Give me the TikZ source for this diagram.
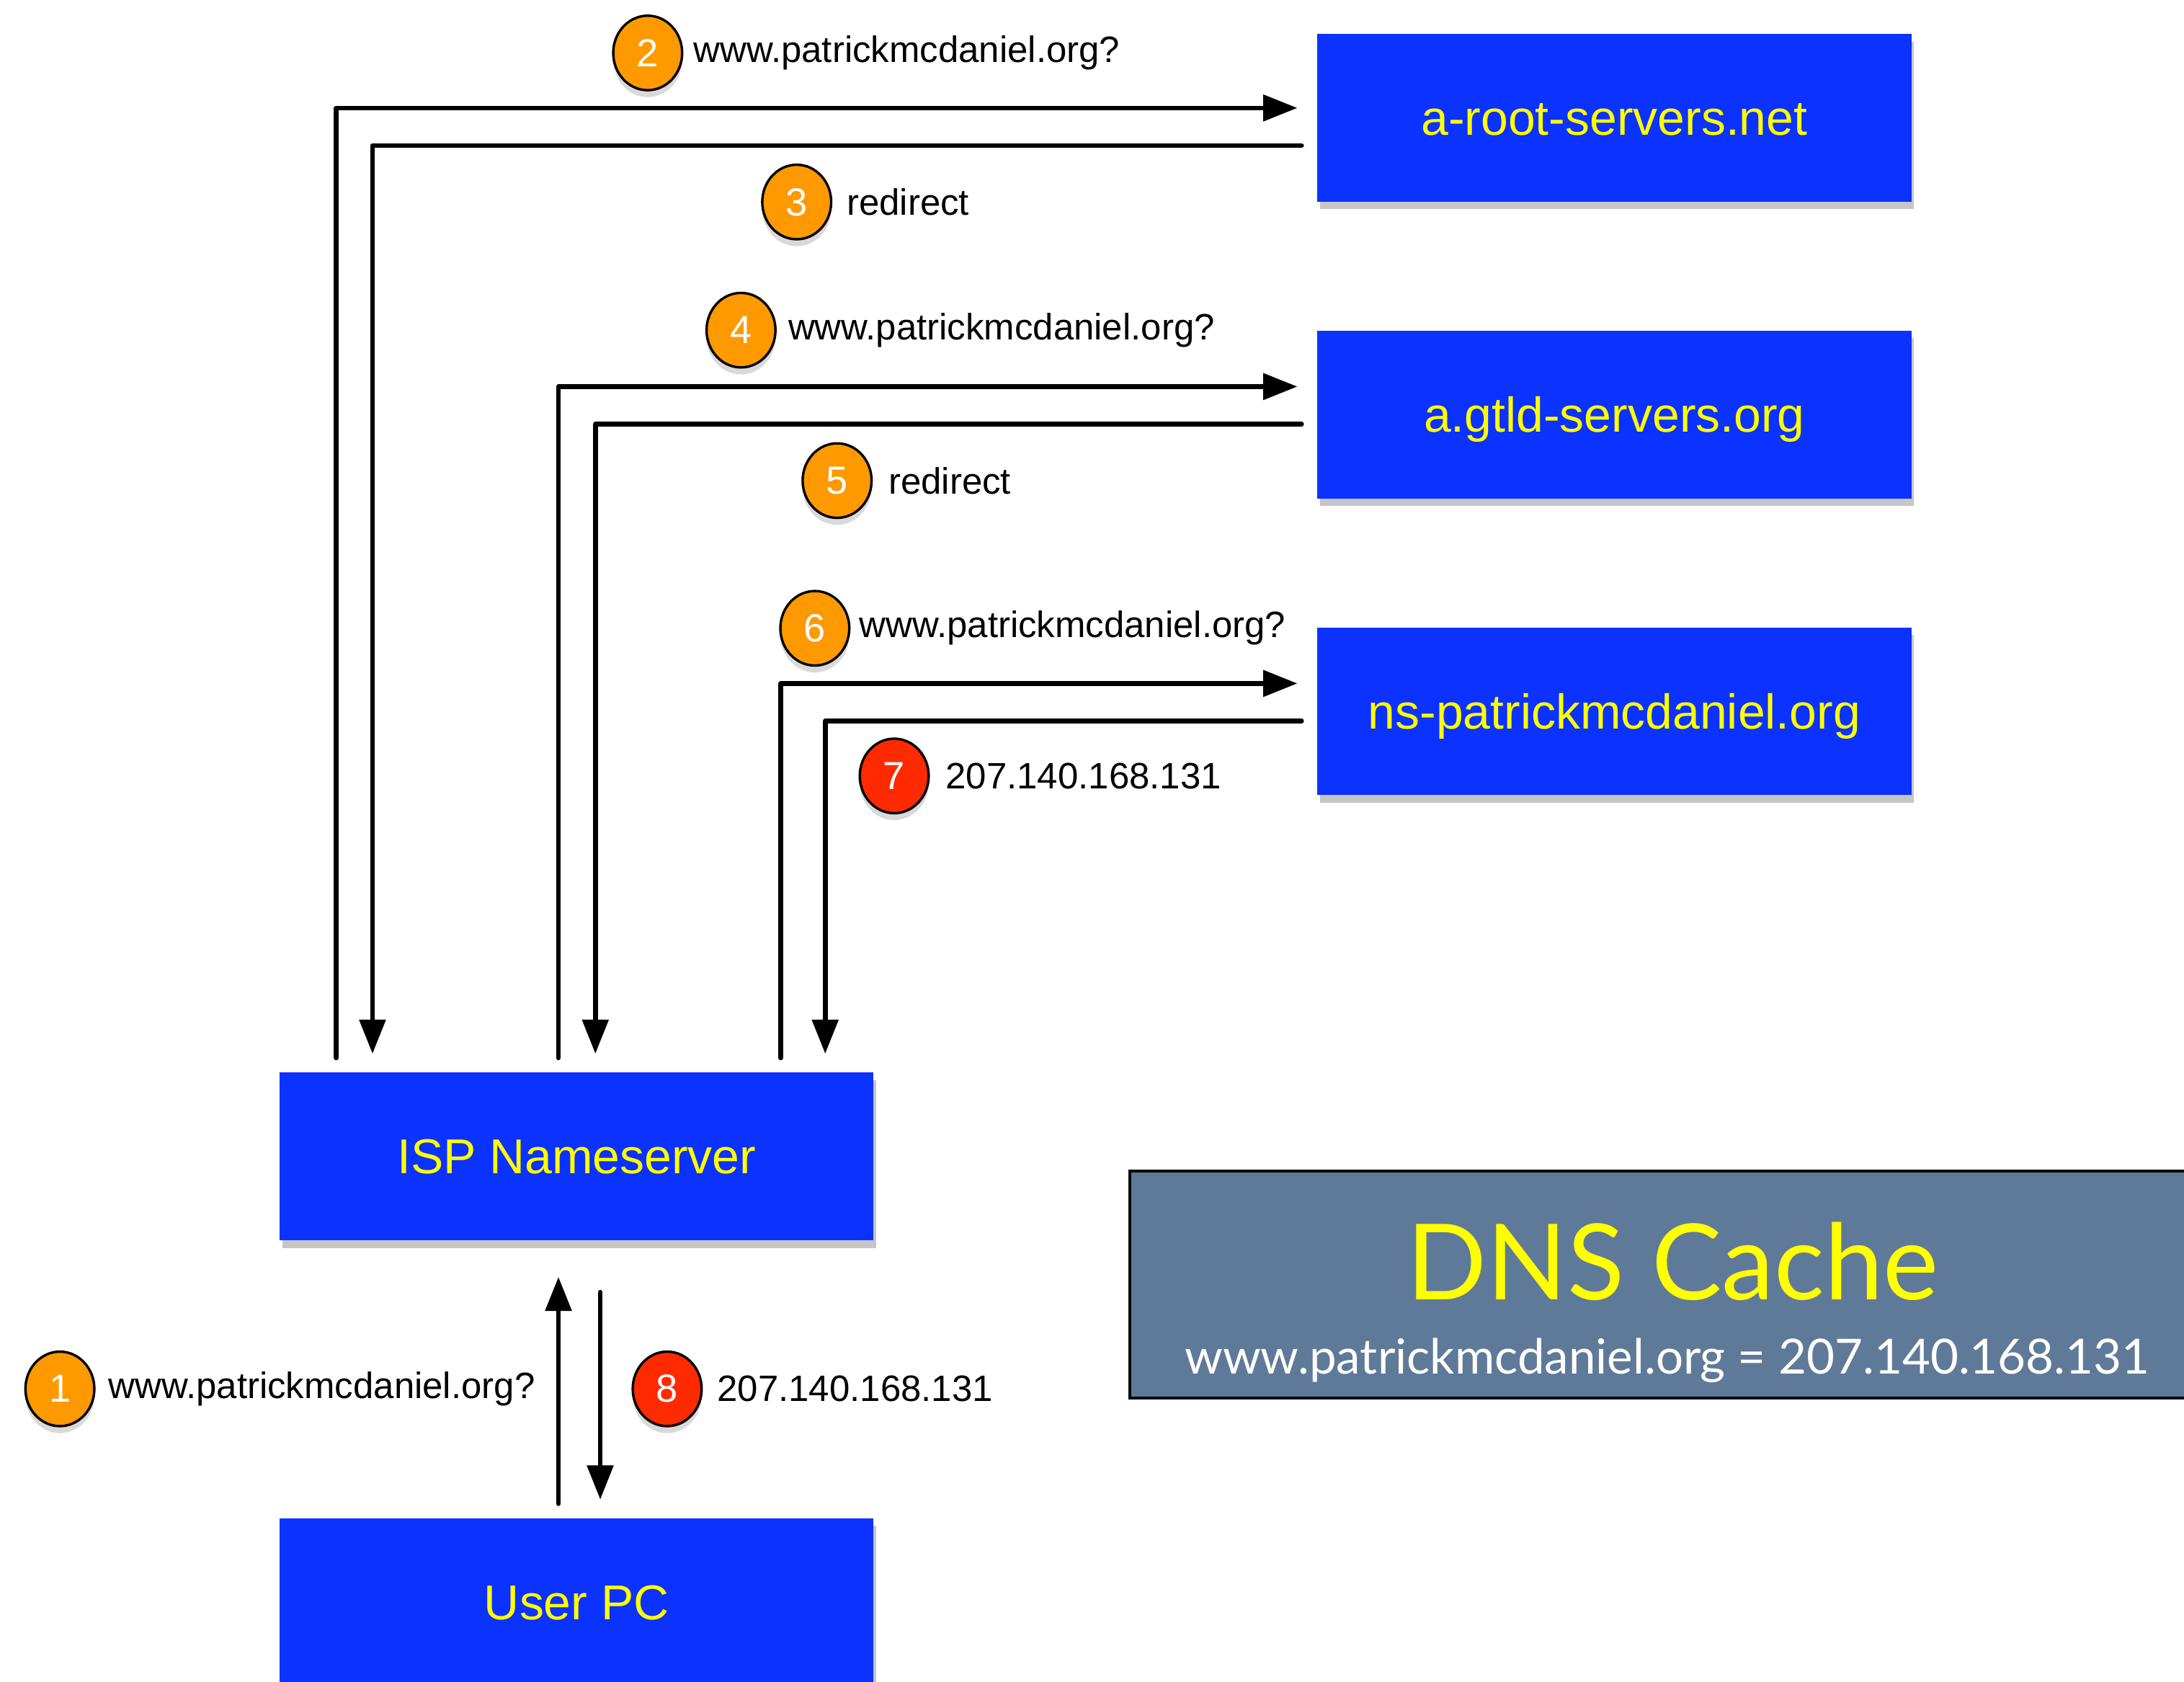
\documentclass[tikz,border=0pt]{standalone}
\usepackage{fontspec}
\setmainfont{Liberation Sans}
\newfontfamily\cachefont{Lato}
\usetikzlibrary{positioning,calc,shapes.geometric,shadows,arrows.meta}

\definecolor{boxblue}{RGB}{12,50,255}
\definecolor{boxtext}{RGB}{255,255,0}
\definecolor{qorange}{RGB}{255,153,0}
\definecolor{ared}{RGB}{255,42,0}
\definecolor{slate}{RGB}{95,122,153}

\begin{document}
\begin{tikzpicture}[x=0.02cm, y=-0.02cm,
	server/.style={rectangle, fill=boxblue, text=boxtext, minimum width=8.53cm, minimum height=2.41cm, inner sep=0pt, text height=14.3pt, text depth=0pt, font=\fontsize{20}{24}\selectfont, drop shadow={shadow xshift=0.04cm, shadow yshift=-0.11cm, opacity=0.45}},
	badge/.style={ellipse, draw=black, line width=1pt, text=white, minimum width=0.99cm, minimum height=1.07cm, inner sep=0pt, font=\fontsize{16}{18}\selectfont, drop shadow={shadow xshift=0cm, shadow yshift=-0.1cm, opacity=0.3}},
	msg/.style={inner sep=0pt, font=\fontsize{15}{18}\selectfont},
	cachebox/.style={rectangle, fill=slate, draw=black, line width=1.25pt, minimum width=15.58cm, minimum height=3.26cm, inner sep=0pt},
	flow/.style={line width=0.068cm, line cap=round, line join=round, -{Triangle[length=0.49cm, width=0.37cm]}},
	]
			\useasboundingbox (0,0) rectangle (1568,1207);
			% name servers
			\node[server] (root) at (1159,84.5) {a-root-servers.net};
			\node[server] (gtld) at (1159,297.5) {a.gtld-servers.org};
			\node[server] (nsp) at (1159,510.6) {ns-patrickmcdaniel.org};
			\node[server] (isp) at (414,830) {ISP Nameserver};
			\node[server] (pc) at (414,1150) {User PC};

			% cache
			\node[cachebox] (cache) at (1200.5,922) {};
			\node[anchor=base, text=boxtext, font=\cachefont\fontsize{43}{48}\selectfont] (cachehead) at (1201,933) {DNS Cache};
			\node[anchor=base, text=white, font=\cachefont\fontsize{19.8}{24}\selectfont] (cacherow) at (1197,986.5) {www.patrickmcdaniel.org = 207.140.168.131};

			% steps
			\begin{scope}[every node/.style={badge}]
				\node[fill=qorange] (s1) at (43,997) {1};
				\node[fill=qorange] (s2) at (465,38) {2};
				\node[fill=qorange] (s3) at (572,145) {3};
				\node[fill=qorange] (s4) at (532,237) {4};
				\node[fill=qorange] (s5) at (601,345) {5};
				\node[fill=qorange] (s6) at (585,451) {6};
				\node[fill=ared] (s7) at (642,557) {7};
				\node[fill=ared] (s8) at (479,997) {8};
			\end{scope}
			\begin{scope}[every node/.style={msg}]
				\node[right=0.18cm of s1] (t1) {www.patrickmcdaniel.org?};
				\node[right=0.14cm of s2] (t2) {www.patrickmcdaniel.org?};
				\node[right=0.2cm of s3] (t3) {redirect};
				\node[right=0.16cm of s4] (t4) {www.patrickmcdaniel.org?};
				\node[right=0.22cm of s5] (t5) {redirect};
				\node[right=0.12cm of s6] (t6) {www.patrickmcdaniel.org?};
				\node[right=0.22cm of s7] (t7) {207.140.168.131};
				\node[right=0.2cm of s8] (t8) {207.140.168.131};
			\end{scope}

			% queries and answers
			\draw[flow] ($(isp.north west)+(41,-10)$) |- ($(root.west)+(-14,-7)$);
			\draw[flow] ($(root.west)+(-11,20)$) -| ($(isp.north west)+(67,-13)$);
			\draw[flow] ($(isp.north west)+(200.5,-10)$) |- ($(gtld.west)+(-14,-20)$);
			\draw[flow] ($(gtld.west)+(-11,7)$) -| ($(isp.north west)+(227,-13)$);
			\draw[flow] ($(isp.north west)+(360,-10)$) |- ($(nsp.west)+(-14,-20)$);
			\draw[flow] ($(nsp.west)+(-11,7)$) -| ($(isp.north west)+(392,-13)$);
			\draw[flow] ($(pc.north west)+(200.5,-10)$) -- ($(isp.south west)+(200.5,26)$);
			\draw[flow] ($(isp.south west)+(230.5,37)$) -- ($(pc.north west)+(230.5,-13)$);
		\end{tikzpicture}
\end{document}
